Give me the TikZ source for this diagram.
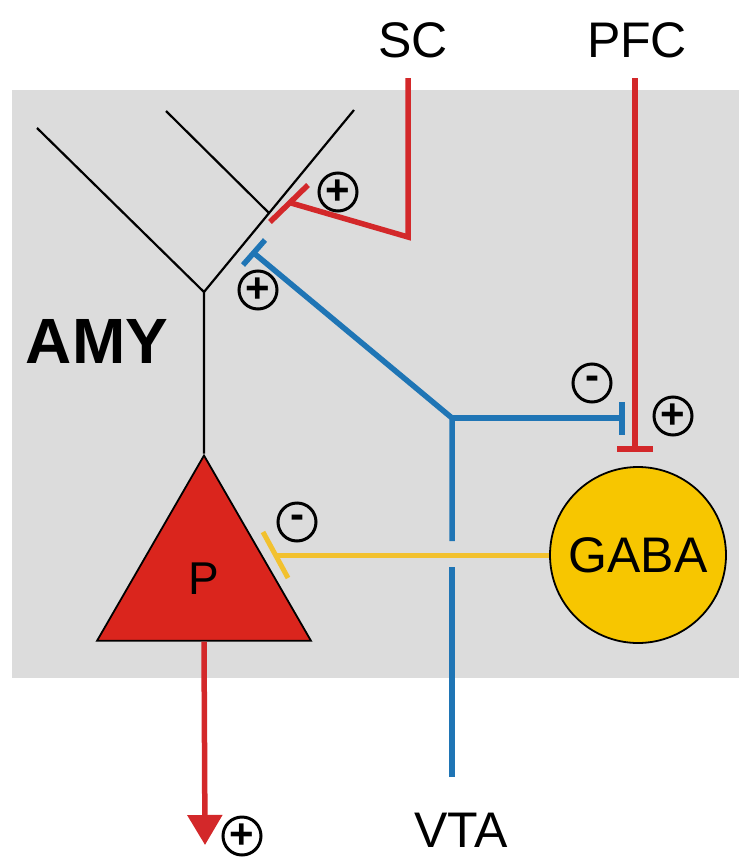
\documentclass[tikz,border=0pt]{standalone}
\usepackage{fontspec}
\setmainfont{Liberation Sans}
\usetikzlibrary{shapes.geometric, arrows.meta}

\definecolor{bggray}{HTML}{DCDCDC}
\definecolor{axred}{HTML}{D3282A}
\definecolor{axblue}{HTML}{1F75B5}
\definecolor{axyellow}{HTML}{F2C12E}
\definecolor{gabafill}{HTML}{F7C600}
\definecolor{somared}{HTML}{DA251D}

\begin{document}
\begin{tikzpicture}[
  x=1pt, y=-1pt,
  >=Triangle,
  label text/.style={font=\fontsize{50}{50}\selectfont, inner sep=0pt},
  charge/.style={circle, draw, line width=3pt, minimum size=38pt, inner sep=0pt,
    font=\fontsize{42}{42}\selectfont\bfseries},
  dendrite/.style={line width=2.2pt},
  sc axon/.style={draw=axred, line width=5.5pt},
  vta axon/.style={draw=axblue, line width=5.5pt},
  gaba axon/.style={draw=axyellow, line width=5pt}
]
  \useasboundingbox (0,0) rectangle (739,857);
  \fill[bggray] (12,90) rectangle (739,678);

  \node[label text] (SC) at (413,40) {SC};
  \node[label text] (PFC) at (637,40) {PFC};
  \node[label text] (VTA) at (461,830) {VTA};
  \node[font=\fontsize{64}{64}\selectfont\bfseries] (AMY) at (97,341) {AMY};

  \node[regular polygon, regular polygon sides=3, minimum size=247pt, inner sep=0pt,
    fill=somared, draw, line width=1.8pt, font=\fontsize{46}{46}\selectfont] (P) at (204,579) {P};
  \node[circle, minimum size=176pt, inner sep=0pt, fill=gabafill, draw, line width=1.8pt,
    font=\fontsize{50}{50}\selectfont] (GABA) at (638,555) {GABA};

  \coordinate (fork) at (204,292);
  \coordinate (tipL) at (37,128);
  \coordinate (tipR) at (354,110);
  \coordinate (tipM) at (166,111);
  \coordinate (branch) at (269,213);
  \draw[dendrite] (P.north) -- (fork) -- (tipL);
  \draw[dendrite] (fork) -- (tipR);
  \draw[dendrite] (tipM) -- (branch);

  \coordinate (sc in) at (408,78);
  \coordinate (sc turn) at (408,237);
  \coordinate (sc syn) at (291,203);
  \draw[sc axon] (sc in) -- (sc turn) -- (sc syn);
  \draw[sc axon] (270,222) -- (308,185);

  \coordinate (pfc in) at (635,78);
  \coordinate (pfc syn) at (635,449);
  \draw[sc axon] (pfc in) -- (pfc syn);
  \draw[sc axon] (617,449) -- (653,449);

  \coordinate (vta in) at (452,777);
  \coordinate (vta gap lo) at (452,567);
  \coordinate (vta gap hi) at (452,541);
  \coordinate (vta fork) at (452,418);
  \coordinate (vta syn) at (255,254);
  \coordinate (vta gaba) at (622,418);
  \draw[vta axon] (vta in) -- (vta gap lo);
  \draw[vta axon] (vta gap hi) -- (vta fork) -- (vta syn);
  \draw[vta axon] (vta fork) -- (vta gaba);
  \draw[vta axon] (243,265) -- (265,240);
  \draw[vta axon] (622,402) -- (622,435);

  \coordinate (gaba syn) at (277,555);
  \draw[gaba axon] (GABA.west) -- (gaba syn);
  \draw[gaba axon] (263,532) -- (288,578);

  \coordinate (out) at (205,845);
  \draw[->, draw=axred, fill=axred, line width=5.5pt, arrows={-Triangle[width=34pt, length=30pt]}]
    (P.south) -- (out);

  \node[charge] (sc plus) at (338,192) {+};
  \node[charge] (vta plus) at (258,290) {+};
  \node[charge] (vta minus) at (592,383) {-};
  \node[charge] (pfc plus) at (673,416) {+};
  \node[charge] (gaba minus) at (297,522) {-};
  \node[charge] (out plus) at (242,836) {+};
\end{tikzpicture}
\end{document}
